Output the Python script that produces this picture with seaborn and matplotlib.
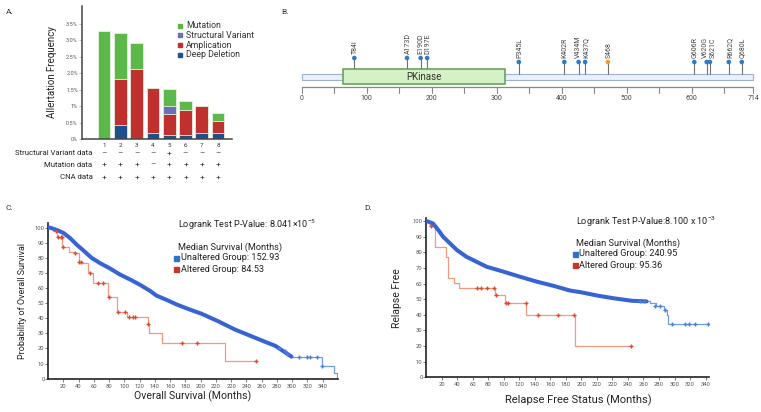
import numpy as np
import pandas as pd
import matplotlib.pyplot as plt
import matplotlib.transforms as mtransforms
from matplotlib.patches import Rectangle
import seaborn as sns

W, H = 761, 412

# ---------------- panel A: alteration frequency (%) per study
bar_ids = ['1', '2', '3', '4', '5', '6', '7', '8']
deep_deletion = [0.0, 0.44, 0.0, 0.18, 0.13, 0.12, 0.17, 0.18]
amplification = [0.0, 1.39, 2.13, 1.37, 0.62, 0.76, 0.85, 0.36]
structural_variant = [0.0, 0.0, 0.0, 0.0, 0.24, 0.0, 0.0, 0.0]
mutation = [3.30, 1.40, 0.80, 0.0, 0.52, 0.28, 0.0, 0.25]
freq_ticks = [0, 0.5, 1, 1.5, 2.0, 2.5, 3.0, 3.5]
freq_ticklabels = ['0%', '0.5%', '1%', '1.5%', '2.0%', '2.5%', '3.0%', '3.5%']
profile_rows = ['Structural Variant data', 'Mutation data', 'CNA data']
sv_data = ['–', '–', '–', '–', '+', '–', '–', '–']
mut_data = ['+', '+', '+', '–', '+', '+', '+', '+']
cna_data = ['+', '+', '+', '+', '+', '+', '+', '+']

# ---------------- panel B: lollipop
protein_end = 695          # drawn end of backbone
domain_name = 'PKinase'
domain_start, domain_end = 63, 312
axis_ticks = [0, 50, 100, 150, 200, 250, 300, 350, 400, 450, 500, 550, 600, 650, 695]
axis_ticklabels = ['0', '', '100', '', '200', '', '300', '', '400', '', '500', '', '600', '', '714']
mut_labels = ['T84I', 'A173D', 'E190D', 'D197E', 'P345L', 'K402R', 'V434M', 'K437Q',
              'S468', 'G606R', 'V620G', 'S621C', 'R662Q', 'Q680L']
mut_pos = [81, 162, 183, 193, 334, 404, 426, 436, 471, 604, 623, 628, 657, 677]
mut_height = [29, 29, 29, 29, 25, 25, 25, 25, 25, 25, 25, 25, 25, 25]
mut_type = ['missense'] * 8 + ['truncating'] + ['missense'] * 5
label_nudge = [1.5, 1.5, 0, 1.5, 1.5, 1.5, 0, 1.5, 1.5, 1.5, -2.5, 5, 1.5, 1.5]

# ---------------- panel C: overall survival
month_ticks = list(range(20, 361, 20))
month_ticklabels = ['20', '40', '60', '80', '100', '120', '140', '160', '180', '200',
                    '220', '220', '240', '260', '280', '300', '320', '340']
os_unalt_t = [0, 2, 11, 20, 29, 38, 46, 57, 68, 81, 94, 108, 121, 134, 142, 156, 169,
              186, 201, 223, 245, 267, 284, 298, 306, 312, 319]
os_unalt_s = [100, 100, 98.5, 96.5, 93, 88.5, 85, 80, 76.5, 73, 69, 65.5, 62, 58, 55, 52,
              49, 45.7, 43, 38, 32.5, 28, 24.5, 21.7, 19, 17, 14.6]
os_unalt_tail_t = [319, 359, 375, 379]
os_unalt_tail_s = [14.6, 8.6, 4, 0]
os_unalt_cens_t = [303, 310, 313, 329, 339, 343, 352, 359]
os_unalt_cens_s = [20, 18, 16.5, 14.6, 14.6, 14.6, 14.6, 8.6]
os_alt_t = [0, 7, 12, 19, 28, 35, 40, 44, 53, 55, 59, 79, 90, 104, 131, 133, 149, 232, 272]
os_alt_s = [100, 97.4, 94, 87, 84.1, 83.4, 77.5, 76.4, 70.9, 69.8, 63.6, 53.9, 44, 41.1,
            36.2, 30, 23.9, 11.9, 11.9]
os_alt_cens_t = [10.5, 13.5, 16.6, 18, 20, 35.4, 41, 43.2, 55, 66, 71.6, 80, 91.3, 101,
                 106.6, 111, 114, 131.5, 175, 195, 272]
os_alt_cens_s = [97.4, 94, 94, 94, 87, 83.4, 77.5, 77.5, 69.8, 63.6, 63.6, 53.9, 44, 44,
                 41.1, 41.1, 41.1, 36.2, 23.9, 23.9, 11.9]

# ---------------- panel D: relapse free
rf_unalt_t = [0, 1, 9, 16, 22, 31, 40, 52, 65, 78, 100, 121, 143, 164, 185, 200, 222,
              243, 265, 284]
rf_unalt_s = [100, 100, 98.5, 94.2, 90, 85.7, 81.4, 77.2, 74, 70.8, 67.6, 64.4, 61.2,
              58.6, 55.6, 54.4, 52.2, 50.5, 49, 48.6]
rf_unalt_tail_t = [284, 288, 296, 306, 310, 312, 363]
rf_unalt_tail_s = [48.6, 47.3, 45.8, 43, 39.9, 34.1, 34.1]
rf_unalt_cens_t = [276, 281, 295, 301, 308, 317, 333, 338, 346, 363]
rf_unalt_cens_s = [48.9, 48.7, 45.8, 45.8, 43, 34.1, 34.1, 34.1, 34.1, 34.1]
rf_alt_t = [0, 5, 12, 26, 28, 36, 42, 89, 102, 129, 192, 264]
rf_alt_s = [100, 97, 83.6, 77.2, 63.7, 60.7, 57.3, 52.7, 47.3, 39.9, 20.2, 20.2]
rf_alt_cens_t = [6.4, 66, 71, 79, 87.6, 90, 103, 106, 128.8, 144.6, 170.4, 190, 264]
rf_alt_cens_s = [97, 57.3, 57.3, 57.3, 57.3, 52.7, 47.3, 47.3, 47.3, 39.9, 39.9, 39.9, 20.2]

sns.set_style('white')
plt.rcParams['font.family'] = ['Roboto', 'DejaVu Sans']
plt.rcParams['mathtext.fontset'] = 'custom'
plt.rcParams['mathtext.rm'] = 'Roboto'
plt.rcParams['mathtext.default'] = 'regular'

fig = plt.figure(figsize=(W / 100, H / 100), dpi=100)


def px_axes(left, top, right, bottom):
    return fig.add_axes([left / W, 1 - bottom / H, (right - left) / W, (bottom - top) / H])


def ftext(x, y, s, **kw):
    fig.text(x / W, 1 - y / H, s, **kw)


# ======================= A
colors = {'Deep Deletion': '#1f4f8d', 'Amplication': '#c0302d',
          'Structural Variant': '#6a70b6', 'Mutation': '#5cb848'}
df = pd.DataFrame({'bar': bar_ids, 'Deep Deletion': deep_deletion,
                   'Amplication': amplification, 'Structural Variant': structural_variant,
                   'Mutation': mutation})
layers = ['Deep Deletion', 'Amplication', 'Structural Variant', 'Mutation']
cum = df[layers].cumsum(axis=1)

axA = px_axes(82, 6, 232, 139)
for name in reversed(layers):
    sns.barplot(x=df['bar'], y=cum[name], color=colors[name], saturation=1, width=0.78,
                edgecolor='#e3f2de', linewidth=0.6, ax=axA)
axA.set_xlim(-1.35, 7.85)
axA.set_ylim(0, 4.05)
axA.set_yticks(freq_ticks)
axA.set_yticklabels(freq_ticklabels)
axA.set_xlabel('')
axA.set_ylabel('Allertation Frequency', fontsize=7, color='#222', va='center')
axA.yaxis.set_label_coords(-0.197, 0.5)
axA.tick_params(axis='y', length=2.5, width=0.6, color='#bbbbbb', pad=0.5,
                labelsize=4, labelcolor='#555555', left=True)
axA.tick_params(axis='x', length=0, pad=3, labelsize=4.5, labelcolor='#333333')
for s in ['top', 'right']:
    axA.spines[s].set_visible(False)
for s in ['left', 'bottom']:
    axA.spines[s].set_color('#444444')
    axA.spines[s].set_linewidth(1.1)

leg_items = ['Mutation', 'Structural Variant', 'Amplication', 'Deep Deletion']
for i, name in enumerate(leg_items):
    y = 25.7 + 9.7 * i
    fig.patches.append(Rectangle(((180 - 2) / W, 1 - (y + 2) / H), 4 / W, 4 / H,
                                 transform=fig.transFigure, color=colors[name]))
    ftext(186, y, name, fontsize=6.3, color='#333333', va='center')

trans = mtransforms.blended_transform_factory(axA.transData, fig.transFigure)
for row, syms, y in zip(profile_rows, [sv_data, mut_data, cna_data], [153.3, 164.7, 177.3]):
    ftext(92.5, y, row, fontsize=5.6, color='#222222', ha='right', va='center')
    for i, sym in enumerate(syms):
        axA.text(i, 1 - y / H, sym, transform=trans, fontsize=6, color='#333333',
                 ha='center', va='center')

# ======================= B
axB = px_axes(290, 15, 761, 105)
axB.set_xlim(-18, 706.6)
axB.set_ylim(-18, 72)
axB.axis('off')
axB.add_patch(Rectangle((0, 7), protein_end, 6, facecolor='#e8f0fb',
                        edgecolor='#9fb3cf', lw=0.8))
axB.add_patch(Rectangle((domain_start, 3), domain_end - domain_start, 15,
                        facecolor='#d5f1c6', edgecolor='#5f9c55', lw=1.1, zorder=3))
axB.text((domain_start + domain_end) / 2, 10.5, domain_name, fontsize=7, color='#333333',
         ha='center', va='center', zorder=4)
axB.plot([0, protein_end], [0, 0], color='#888888', lw=0.9)
for t, lab in zip(axis_ticks, axis_ticklabels):
    axB.plot([t, t], [0, -6], color='#888888', lw=0.8)
    if lab:
        axB.text(t, -12, lab, fontsize=5, color='#444444', ha='center', va='center')
for x, h in zip(mut_pos, mut_height):
    axB.plot([x, x], [13, h], color='#707070', lw=0.8, zorder=1)
sns.scatterplot(x=mut_pos, y=mut_height, hue=mut_type,
                palette={'missense': '#2f7ac6', 'truncating': '#f29a2e'},
                s=11, linewidth=0, legend=False, ax=axB, zorder=5)
for x, h, lab, dx in zip(mut_pos, mut_height, mut_labels, label_nudge):
    axB.text(x + dx, h + 4, lab, rotation=90, fontsize=5.0, color='#444444',
             ha='center', va='bottom')

# ======================= C / D
blue, blue_thin, red_line, red_mark = '#3763d3', '#6f9ee0', '#f09a80', '#db4a2c'


def km_axes(ax, xmax, ymax):
    ax.set_xlim(0, xmax)
    ax.set_ylim(0, ymax)
    ax.set_xticks(month_ticks)
    ax.set_xticklabels(month_ticklabels)
    ax.set_yticks(range(0, 101, 10))
    ax.tick_params(axis='both', length=2, width=0.6, color='#666666', labelsize=4.2,
                   labelcolor='#555555', left=True, bottom=True)
    ax.tick_params(axis='x', pad=1.5)
    ax.tick_params(axis='y', pad=0.5)
    for s in ['top', 'right']:
        ax.spines[s].set_visible(False)
    for s in ['left', 'bottom']:
        ax.spines[s].set_color('#222222')
        ax.spines[s].set_linewidth(1.2)


def km_draw(ax, ut, us, utt, uts, uct, ucs, at, as_, act, acs):
    sns.lineplot(x=at, y=as_, drawstyle='steps-post', color=red_line, linewidth=0.9,
                 estimator=None, sort=False, ax=ax)
    sns.scatterplot(x=act, y=acs, marker='+', s=9, linewidth=1.0, color=red_mark,
                    ax=ax, zorder=4)
    sns.lineplot(x=utt, y=uts, drawstyle='steps-post', color=blue_thin, linewidth=0.9,
                 estimator=None, sort=False, ax=ax)
    sns.lineplot(x=ut, y=us, color=blue, linewidth=2.9, estimator=None, sort=False,
                 ax=ax, zorder=3)
    sns.scatterplot(x=uct, y=ucs, marker='+', s=9, linewidth=1.0, color='#4a7ed8',
                    ax=ax, zorder=4)


axC = px_axes(48, 223, 338, 378.7)
km_draw(axC, os_unalt_t, os_unalt_s, os_unalt_tail_t, os_unalt_tail_s,
        os_unalt_cens_t, os_unalt_cens_s, os_alt_t, os_alt_s, os_alt_cens_t, os_alt_cens_s)
km_axes(axC, 380, 103)
axC.set_xlabel('Overall Survival (Months)', fontsize=7.6, color='#222222', va='center')
axC.xaxis.set_label_coords(0.5, -(396 - 378.7) / 155.7)
axC.set_ylabel('Probability of Overall Survival', fontsize=6.5, color='#222222', va='center')
axC.yaxis.set_label_coords((22.5 - 48) / 290, 0.5)

axD = px_axes(426, 218, 708.7, 377.3)
km_draw(axD, rf_unalt_t, rf_unalt_s, rf_unalt_tail_t, rf_unalt_tail_s,
        rf_unalt_cens_t, rf_unalt_cens_s, rf_alt_t, rf_alt_s, rf_alt_cens_t, rf_alt_cens_s)
km_axes(axD, 364, 102)
axD.set_xlabel('Relapse Free Status (Months)', fontsize=8, color='#222222', va='center')
axD.xaxis.set_label_coords((578.8 - 426) / 282.7, -(400 - 377.3) / 159.3)
axD.set_ylabel('Relapse Free', fontsize=7.5, color='#222222', va='center')
axD.yaxis.set_label_coords((396.7 - 426) / 282.7, 0.5)

# annotations
ann = [
    (178.3, 225, r'Logrank Test P-Value: 8.041$\times$10$^{-5}$', 'Unaltered Group: 152.93',
     'Altered Group: 84.53', 247),
    (576.5, 222, r'Logrank Test P-Value:8.100 x 10$^{-3}$', 'Unaltered Group: 240.95',
     'Altered Group: 95.36', 243),
]
for x, y, pval, unalt, alt, ym in ann:
    ftext(x, y, pval, fontsize=6.6, color='#222222', va='center')
    ftext(x, ym, 'Median Survival (Months)', fontsize=6.6, color='#222222', va='center')
    for k, (lab, col) in enumerate([(unalt, '#2f73c8'), (alt, '#c8362b')]):
        yy = ym + 11 + 11 * k
        fig.patches.append(Rectangle(((x - 4) / W, 1 - (yy + 2.5) / H), 5 / W, 5 / H,
                                     transform=fig.transFigure, color=col))
        ftext(x + 2.5, yy, lab, fontsize=6.6, color='#222222', va='center')

for lab, x, y in [('A.', 6, 12), ('B.', 281, 12), ('C.', 6, 208), ('D.', 364, 208)]:
    ftext(x, y, lab, fontsize=6, color='#333333', va='center')

fig.savefig('out.png', dpi=100)
